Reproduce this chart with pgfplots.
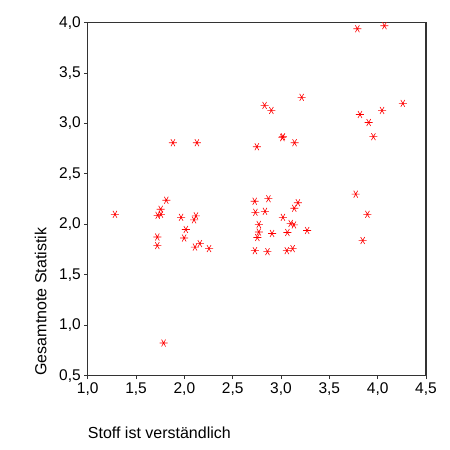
\documentclass[border=0pt]{standalone}
\usepackage{fontspec}
\setmainfont{Liberation Sans}
\usepackage{pgfplots}
\pgfplotsset{compat=1.18}
\begin{document}
\begin{tikzpicture}
\useasboundingbox (-87.7bp,-74.3bp) rectangle (362.3bp,375.7bp);
\begin{axis}[
  at={(0,0)}, anchor=south west,
  scale only axis, width=338.3bp, height=353bp,
  xmin=1, xmax=4.5, ymin=0.5, ymax=4,
  xtick={1,1.5,...,4.5}, ytick={0.5,1,...,4},
  tick align=outside, major tick length=3.5bp,
  xtick pos=bottom, ytick pos=left,
  axis line style={draw=black!80, line width=1.2bp},
  every tick/.style={black!80, line width=1bp},
  tick label style={font=\fontsize{15.5bp}{18bp}\selectfont},
  /pgf/number format/assume math mode=true,
  /pgf/number format/.cd, use comma, fixed, fixed zerofill, precision=1,
  /pgfplots/.cd,
  xlabel={Stoff ist verständlich},
  ylabel={Gesamtnote Statistik},
  every axis x label/.style={at={(axis description cs:0,-0.1623)}, anchor=west, inner sep=0pt, font=\fontsize{16bp}{19bp}\selectfont},
  every axis y label/.style={at={(axis description cs:-0.139,0)}, rotate=90, anchor=west, inner sep=0pt, font=\fontsize{16bp}{19bp}\selectfont},
]
\addplot[only marks, mark=asterisk, red, mark size=4bp, mark options={rotate=90, line width=0.6bp}] coordinates {
(1.282,2.10) (1.813,2.24) (1.755,2.15) (1.724,2.09) (1.758,2.10)
(1.720,1.875) (1.720,1.79) (1.785,0.824) (1.966,2.07) (2.015,1.95)
(1.998,1.865) (2.12,2.085) (2.10,2.045) (2.11,1.775) (2.16,1.81)
(2.255,1.76) (2.728,2.23) (2.735,2.12) (2.77,2.00) (2.77,1.925)
(2.755,1.87) (2.73,1.74) (1.882,2.81) (2.13,2.81) (2.75,2.77)
(3.79,3.94) (4.07,3.97) (4.26,3.20) (4.045,3.13) (3.817,3.09)
(3.907,3.01) (3.956,2.87) (3.214,3.26) (2.83,3.18) (2.90,3.13)
(3.02,2.87) (3.014,2.86) (3.14,2.81) (3.773,2.30) (2.87,2.255)
(3.894,2.10) (3.845,1.84) (3.175,2.215) (3.137,2.16) (2.834,2.13)
(3.02,2.07) (3.10,2.01) (3.134,1.995) (2.907,1.91) (3.066,1.92)
(3.27,1.94) (2.86,1.73) (3.06,1.74) (3.12,1.76)
};
\end{axis}
\end{tikzpicture}
\end{document}
